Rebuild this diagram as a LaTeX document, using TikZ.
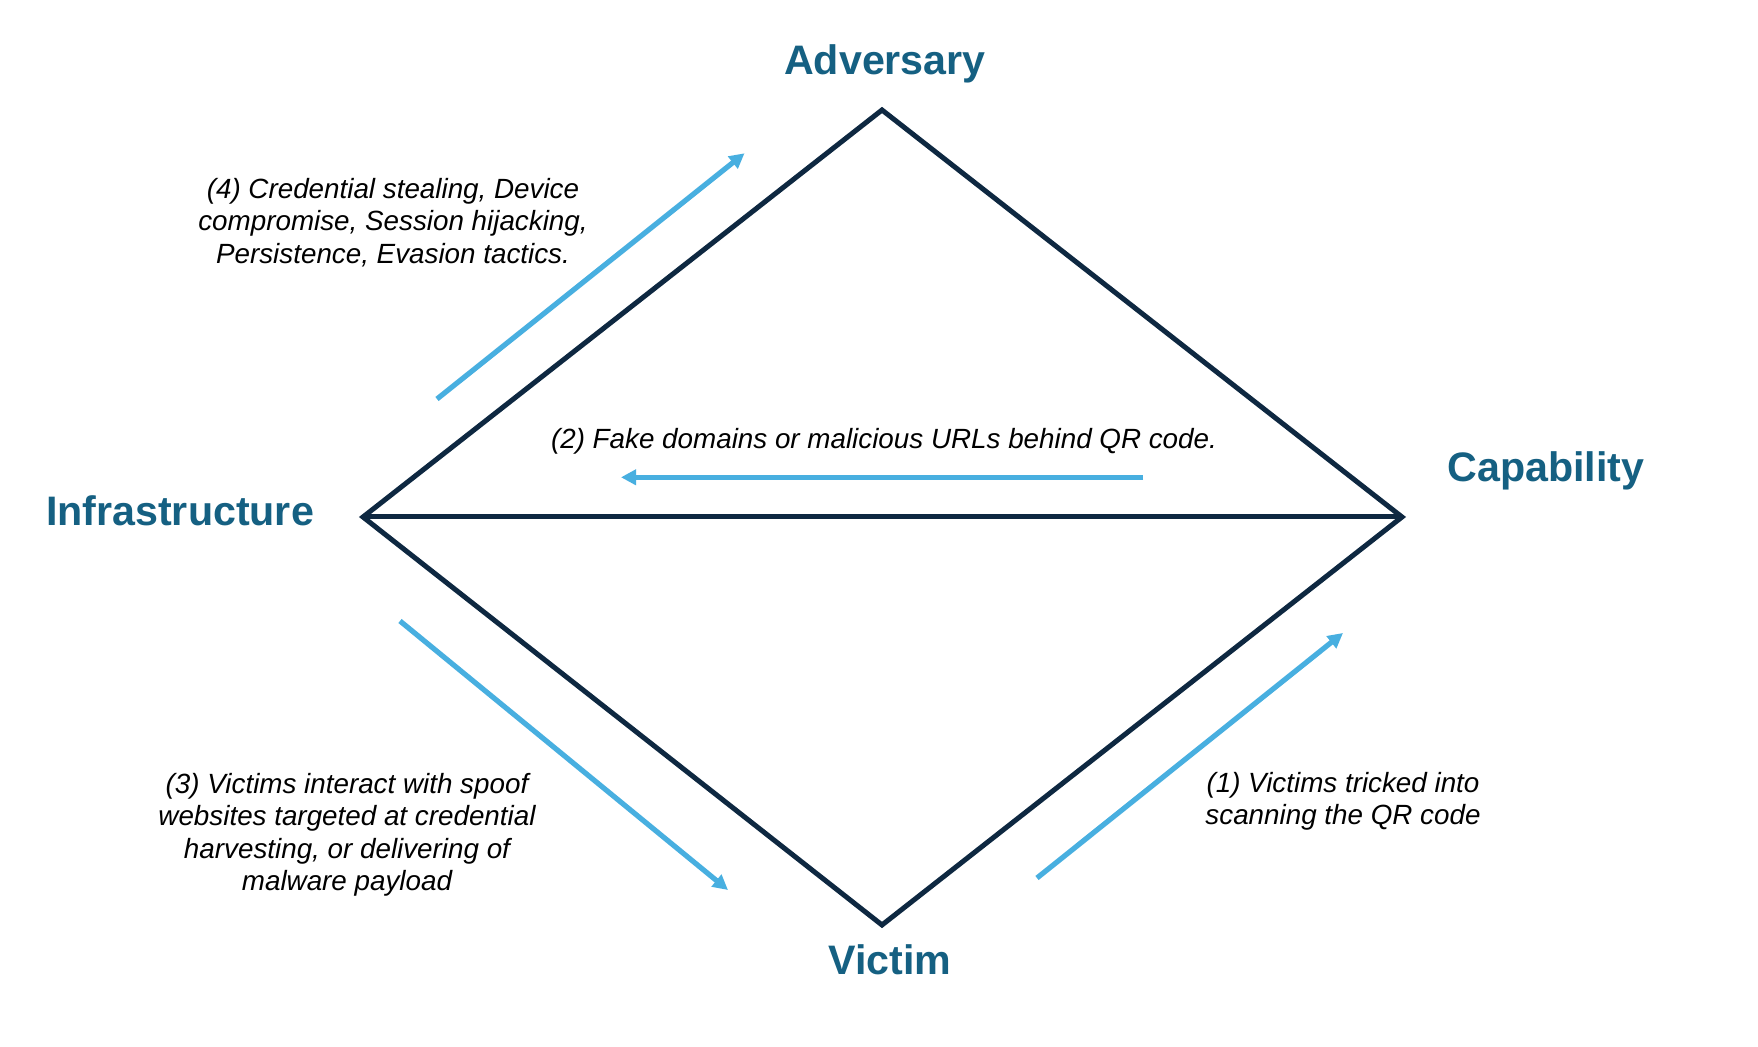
\documentclass[tikz,border=0pt]{standalone}
\usepackage{fontspec}
\setmainfont{Liberation Sans}
\usetikzlibrary{arrows.meta}
\definecolor{navy}{HTML}{0E2841}
\definecolor{labelblue}{HTML}{156082}
\definecolor{arrowblue}{RGB}{72,175,224}
\tikzset{
  edgeline/.style={draw=navy, line width=2.5pt, line join=miter},
  flowarrow/.style={draw=arrowblue, line width=2.6pt, -{Triangle[length=7.5pt,width=7.5pt]}},
  vertexlabel/.style={text=labelblue, font=\fontsize{20.6}{24}\selectfont\bfseries, inner sep=0pt, anchor=base},
  note/.style={text=black, font=\fontsize{13.9}{16.15}\selectfont\itshape, inner sep=0pt, align=center}
}
\begin{document}
\begin{tikzpicture}[x=0.5pt,y=-0.5pt]
\useasboundingbox[fill=white] (0,0) rectangle (1758,1047);
% diamond vertices
\coordinate (A) at (882,110);
\coordinate (I) at (363,517);
\coordinate (C) at (1402,517);
\coordinate (V) at (882,925);
\draw[edgeline] (A) -- (C) -- (V) -- (I) -- cycle;
\draw[edgeline] (I) -- (C);
% vertex labels
\node[vertexlabel] (adv) at (885,75) {Adversary};
\node[vertexlabel] (inf) at (180,526) {Infrastructure};
\node[vertexlabel] (cap) at (1546,482) {Capability};
\node[vertexlabel] (vic) at (890,974) {Victim};
% arrow end points
\coordinate (a1s) at (1037,878);
\coordinate (a1e) at (1343,633);
\coordinate (a2s) at (1143,477.3);
\coordinate (a2e) at (621,477.3);
\coordinate (a3s) at (400,621);
\coordinate (a3e) at (728,890);
\coordinate (a4s) at (437,399);
\coordinate (a4e) at (744.5,153.3);
\draw[flowarrow] (a1s) -- (a1e);
\draw[flowarrow] (a2s) -- (a2e);
\draw[flowarrow] (a3s) -- (a3e);
\draw[flowarrow] (a4s) -- (a4e);
% notes
\node[note, anchor=north] (n4) at (393,178.1) {(4) Credential stealing, Device\\compromise, Session hijacking,\\Persistence, Evasion tactics.};
\node[note, anchor=base] (n2) at (884,449) {(2) Fake domains or malicious URLs behind QR code.};
\node[note, anchor=north] (n3) at (347,773.1) {(3) Victims interact with spoof\\websites targeted at credential\\harvesting, or delivering of\\malware payload};
\node[note, anchor=north] (n1) at (1343,771.8) {(1) Victims tricked into\\scanning the QR code};
\end{tikzpicture}
\end{document}
